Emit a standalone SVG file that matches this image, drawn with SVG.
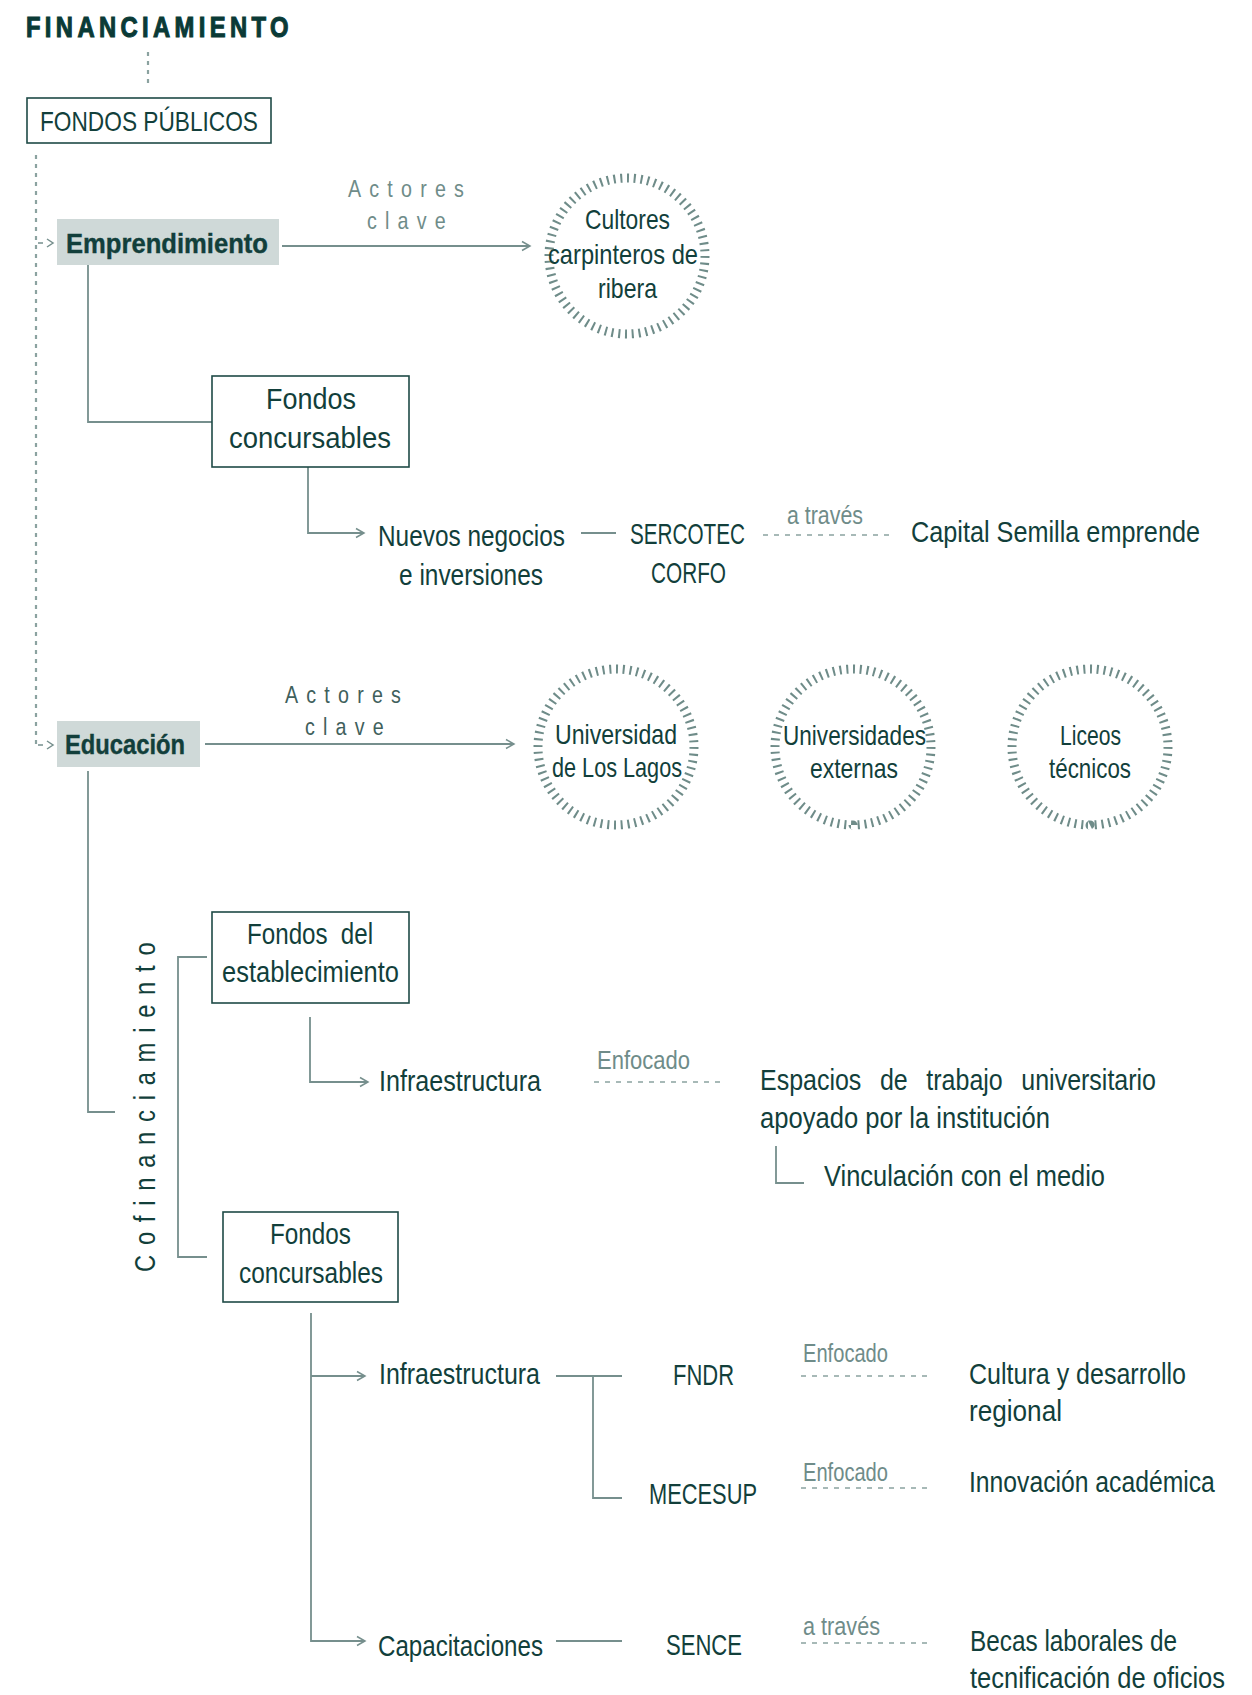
<svg xmlns="http://www.w3.org/2000/svg" width="1252" height="1695" viewBox="0 0 1252 1695">
<style>
.t{font-family:"Liberation Sans",Arial,sans-serif;fill:#123f3b}
.m{font-size:30px}
.c{font-size:28px}
.b{font-weight:bold}
.lbl{font-family:"Liberation Sans",Arial,sans-serif;font-size:26px;fill:#6f8c89}
.ak{font-family:"Liberation Sans",Arial,sans-serif;font-size:24px;letter-spacing:10px}
.ln{stroke:#768f8d;stroke-width:1.8;fill:none}
.dot{stroke:#8ba2a0;stroke-width:2.2;stroke-dasharray:4 5;fill:none}
.dash{stroke:#8ba2a0;stroke-width:1.5;stroke-dasharray:5 6;fill:none}
.box{fill:#ffffff;stroke:#1f4a46;stroke-width:1.6}
.hl{fill:#cfd9d8}
.ring{fill:none;stroke:#6f8c89;stroke-width:9;stroke-dasharray:0.3 0.7}
</style>
<defs>
<marker id="arr" viewBox="0 0 12 12" refX="10" refY="6" markerWidth="12" markerHeight="12" markerUnits="userSpaceOnUse" orient="auto">
<path d="M2,1.5 L10,6 L2,10.5" fill="none" stroke="#768f8d" stroke-width="1.5"/>
</marker>
</defs>
<rect width="1252" height="1695" fill="#ffffff"/>

<g id="connectors">
<path class="dot" d="M148,52 V84"/>
<path class="dot" d="M36,155 V748"/>
<path class="ln" style="stroke-width:1.5" d="M38,243 H43 M47,239 L53,243 L47,247"/>
<path class="ln" style="stroke-width:1.5" d="M38,745 H43 M47,741 L53,745 L47,749"/>
<path class="ln" d="M282,246 H530" marker-end="url(#arr)"/>
<path class="ln" d="M88,265 V422 H212"/>
<path class="ln" d="M308,467 V533 H364" marker-end="url(#arr)"/>
<path class="ln" d="M581,533 H616"/>
<path class="dash" d="M763,535 H889"/>
<path class="ln" d="M205,744 H514" marker-end="url(#arr)"/>
<path class="ln" d="M88,771 V1112 H115"/>
<path class="ln" d="M207,957 H178 V1257 H207"/>
<path class="ln" d="M310,1017 V1082 H368" marker-end="url(#arr)"/>
<path class="dash" d="M594,1082 H720"/>
<path class="ln" d="M776,1146 V1183 H804"/>
<path class="ln" d="M311,1313 V1641 H365" marker-end="url(#arr)"/>
<path class="ln" d="M311,1376 H365" marker-end="url(#arr)"/>
<path class="ln" d="M556,1376 H622 M593,1376 V1498 H622"/>
<path class="dash" d="M801,1376 H927"/>
<path class="dash" d="M801,1488 H927"/>
<path class="ln" d="M556,1641 H622"/>
<path class="dash" d="M801,1643 H927"/>
</g>

<g id="title"><text class="t b" transform="translate(26,37) scale(0.82,1)" font-size="29" textLength="320" lengthAdjust="spacing" style="fill:#0a3a36;stroke:#0a3a36;stroke-width:1.1">FINANCIAMIENTO</text></g>

<g id="fondos-publicos">
<rect class="box" x="27" y="98" width="244" height="45"/>
<text class="t" x="40" y="131" font-size="28" textLength="218" lengthAdjust="spacingAndGlyphs">FONDOS PÚBLICOS</text>
</g>

<g id="emprendimiento">
<rect class="hl" x="57" y="219" width="222" height="46"/>
<text class="t b" x="66" y="253" font-size="28" textLength="202" lengthAdjust="spacingAndGlyphs" style="stroke:#123f3b;stroke-width:0.4">Emprendimiento</text>
</g>

<g id="actores-clave-1">
<text class="ak" transform="translate(348,197) scale(0.82,1)" style="fill:#6f8c89">Actores</text>
<text class="ak" transform="translate(367,229) scale(0.82,1)" style="fill:#6f8c89">clave</text>
</g>

<g id="cultores">
<circle class="ring" cx="627" cy="256" r="78" pathLength="72"/>
<text class="t c" x="585" y="229" textLength="85" lengthAdjust="spacingAndGlyphs">Cultores</text>
<text class="t c" x="548" y="264" textLength="150" lengthAdjust="spacingAndGlyphs">carpinteros de</text>
<text class="t c" x="598" y="298" textLength="59" lengthAdjust="spacingAndGlyphs">ribera</text>
</g>

<g id="fondos-concursables-1">
<rect class="box" x="212" y="376" width="197" height="91"/>
<text class="t m" x="266" y="409" textLength="90" lengthAdjust="spacingAndGlyphs">Fondos</text>
<text class="t m" x="229" y="448" textLength="162" lengthAdjust="spacingAndGlyphs">concursables</text>
</g>

<g id="nuevos-negocios">
<text class="t m" x="378" y="546" textLength="187" lengthAdjust="spacingAndGlyphs">Nuevos negocios</text>
<text class="t m" x="399" y="585" textLength="144" lengthAdjust="spacingAndGlyphs">e inversiones</text>
</g>

<g id="sercotec">
<text class="t m" x="630" y="544" textLength="115" lengthAdjust="spacingAndGlyphs">SERCOTEC</text>
<text class="t m" x="651" y="583" textLength="75" lengthAdjust="spacingAndGlyphs">CORFO</text>
</g>

<g id="a-traves-1"><text class="lbl" x="787" y="524" textLength="76" lengthAdjust="spacingAndGlyphs">a través</text></g>

<g id="capital-semilla"><text class="t m" x="911" y="542" textLength="289" lengthAdjust="spacingAndGlyphs">Capital Semilla emprende</text></g>

<g id="educacion">
<rect class="hl" x="57" y="721" width="143" height="46"/>
<text class="t b" x="65" y="754" font-size="28.5" textLength="120" lengthAdjust="spacingAndGlyphs" style="stroke:#123f3b;stroke-width:0.4">Educación</text>
</g>

<g id="actores-clave-2">
<text class="ak" transform="translate(285,703) scale(0.82,1)" style="fill:#3f605c">Actores</text>
<text class="ak" transform="translate(305,735) scale(0.82,1)" style="fill:#3f605c">clave</text>
</g>

<g id="u-lagos">
<circle class="ring" cx="616" cy="747" r="78" pathLength="72"/>
<text class="t c" x="555" y="744" textLength="122" lengthAdjust="spacingAndGlyphs">Universidad</text>
<text class="t c" x="552" y="777" textLength="130" lengthAdjust="spacingAndGlyphs">de Los Lagos</text>
</g>

<g id="u-externas">
<circle class="ring" cx="853" cy="747" r="78" pathLength="72"/>
<text class="t c" x="783" y="745" textLength="143" lengthAdjust="spacingAndGlyphs">Universidades</text>
<text class="t c" x="810" y="778" textLength="88" lengthAdjust="spacingAndGlyphs">externas</text>
</g>

<g id="liceos">
<circle class="ring" cx="1090" cy="747" r="78" pathLength="72"/>
<text class="t c" x="1060" y="745" textLength="61" lengthAdjust="spacingAndGlyphs">Liceos</text>
<text class="t c" x="1049" y="778" textLength="82" lengthAdjust="spacingAndGlyphs">técnicos</text>
</g>

<g id="cofinanciamiento">
<text class="t" font-size="29" transform="translate(155,1272) rotate(-90) scale(0.82,1)" x="0" y="0" textLength="402" lengthAdjust="spacing">Cofinanciamiento</text>
</g>

<g id="fondos-establecimiento">
<rect class="box" x="212" y="912" width="197" height="91"/>
<text class="t m" x="247" y="944" word-spacing="8" textLength="126" lengthAdjust="spacingAndGlyphs">Fondos del</text>
<text class="t m" x="222" y="982" textLength="177" lengthAdjust="spacingAndGlyphs">establecimiento</text>
</g>

<g id="infraestructura-1"><text class="t m" x="379" y="1091" textLength="162" lengthAdjust="spacingAndGlyphs">Infraestructura</text></g>

<g id="enfocado-1"><text class="lbl" x="597" y="1069" textLength="93" lengthAdjust="spacingAndGlyphs">Enfocado</text></g>

<g id="espacios">
<text class="t m" x="760" y="1090" word-spacing="14" textLength="396" lengthAdjust="spacingAndGlyphs">Espacios de trabajo universitario</text>
<text class="t m" x="760" y="1128" textLength="290" lengthAdjust="spacingAndGlyphs">apoyado por la institución</text>
</g>

<g id="vinculacion"><text class="t m" x="824" y="1186" textLength="281" lengthAdjust="spacingAndGlyphs">Vinculación con el medio</text></g>

<g id="fondos-concursables-2">
<rect class="box" x="223" y="1212" width="175" height="90"/>
<text class="t m" x="270" y="1244" textLength="81" lengthAdjust="spacingAndGlyphs">Fondos</text>
<text class="t m" x="239" y="1283" textLength="144" lengthAdjust="spacingAndGlyphs">concursables</text>
</g>

<g id="infraestructura-2"><text class="t m" x="379" y="1384" textLength="161" lengthAdjust="spacingAndGlyphs">Infraestructura</text></g>

<g id="fndr"><text class="t m" x="673" y="1385" textLength="61" lengthAdjust="spacingAndGlyphs">FNDR</text></g>
<g id="mecesup"><text class="t m" x="649" y="1504" textLength="108" lengthAdjust="spacingAndGlyphs">MECESUP</text></g>

<g id="enfocado-2"><text class="lbl" x="803" y="1362" textLength="85" lengthAdjust="spacingAndGlyphs">Enfocado</text></g>
<g id="enfocado-3"><text class="lbl" x="803" y="1481" textLength="85" lengthAdjust="spacingAndGlyphs">Enfocado</text></g>

<g id="cultura">
<text class="t m" x="969" y="1384" textLength="217" lengthAdjust="spacingAndGlyphs">Cultura y desarrollo</text>
<text class="t m" x="969" y="1421" textLength="93" lengthAdjust="spacingAndGlyphs">regional</text>
</g>
<g id="innovacion"><text class="t m" transform="translate(969,1492) scale(0.824,1)">Innovación académica</text></g>

<g id="capacitaciones"><text class="t m" x="378" y="1656" textLength="165" lengthAdjust="spacingAndGlyphs">Capacitaciones</text></g>
<g id="sence"><text class="t m" x="666" y="1655" textLength="76" lengthAdjust="spacingAndGlyphs">SENCE</text></g>
<g id="a-traves-2"><text class="lbl" x="803" y="1635" textLength="77" lengthAdjust="spacingAndGlyphs">a través</text></g>
<g id="becas">
<text class="t m" x="970" y="1651" textLength="207" lengthAdjust="spacingAndGlyphs">Becas laborales de</text>
<text class="t m" transform="translate(970,1688) scale(0.85,1)">tecnificación de oficios</text>
</g>
</svg>
